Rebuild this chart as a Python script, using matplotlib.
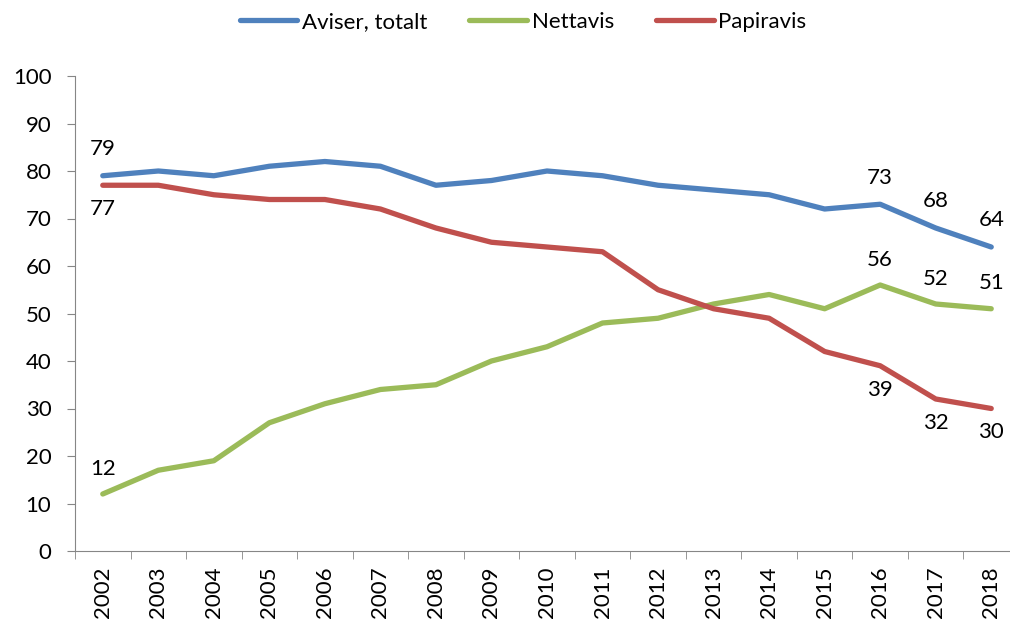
import matplotlib.pyplot as plt
import numpy as np

years = [str(y) for y in range(2002, 2019)]
aviser = [79, 80, 79, 81, 82, 81, 77, 78, 80, 79, 77, 76, 75, 72, 73, 68, 64]
nettavis = [12, 17, 19, 27, 31, 34, 35, 40, 43, 48, 49, 52, 54, 51, 56, 52, 51]
papiravis = [77, 77, 75, 74, 74, 72, 68, 65, 64, 63, 55, 51, 49, 42, 39, 32, 30]

# indices of points with a value label
labels_aviser = [0, 14, 15, 16]
labels_nett = [0, 14, 15, 16]
labels_papir = [0, 14, 15, 16]

plt.rcParams['font.family'] = ['Lato', 'DejaVu Sans']

fig = plt.figure(figsize=(10.1, 6.23), dpi=100)
ax = fig.add_axes([75 / 1010, 1 - 551 / 623, (1019 - 75) / 1010, (551 - 76) / 623])

x = np.arange(len(years))
blue, green, red = '#4F81BD', '#9BBB59', '#C0504D'
ax.plot(x, aviser, color=blue, lw=3.8, label='Aviser, totalt', solid_capstyle='round')
ax.plot(x, nettavis, color=green, lw=3.8, label='Nettavis', solid_capstyle='round')
ax.plot(x, papiravis, color=red, lw=3.8, label='Papiravis', solid_capstyle='round')

fs = 16
for i in labels_aviser:
    ax.annotate(str(aviser[i]), (x[i], aviser[i]), xytext=(0, 12), textcoords='offset points',
                ha='center', va='bottom', fontsize=fs)
for i in labels_nett:
    ax.annotate(str(nettavis[i]), (x[i], nettavis[i]), xytext=(0, 11), textcoords='offset points',
                ha='center', va='bottom', fontsize=fs)
for i in labels_papir:
    ax.annotate(str(papiravis[i]), (x[i], papiravis[i]), xytext=(0, -10), textcoords='offset points',
                ha='center', va='top', fontsize=fs)

ax.set_xlim(-0.5, len(years) - 0.5)
ax.set_ylim(0, 100)
ax.set_yticks(range(0, 101, 10))
ax.set_xticks(x)
ax.set_xticklabels(years, rotation=90)
ax.set_xticks(np.arange(-0.5, len(years)), minor=True)
ax.tick_params(axis='x', which='major', length=0, pad=11, labelsize=fs)
ax.tick_params(axis='x', which='minor', length=6, color='#868686')
ax.tick_params(axis='y', length=6, color='#868686', labelsize=fs, pad=11)

for s in ['top', 'right']:
    ax.spines[s].set_visible(False)
for s in ['left', 'bottom']:
    ax.spines[s].set_color('#868686')

leg = fig.legend(loc='center', bbox_to_anchor=(523 / 1010, 1 - 22 / 623), ncol=3, frameon=False,
                 fontsize=fs, handlelength=2.6, handletextpad=0.2, columnspacing=1.9)
for h in leg.get_lines():
    h.set_solid_capstyle('round')

fig.savefig('out.png', dpi=100)
